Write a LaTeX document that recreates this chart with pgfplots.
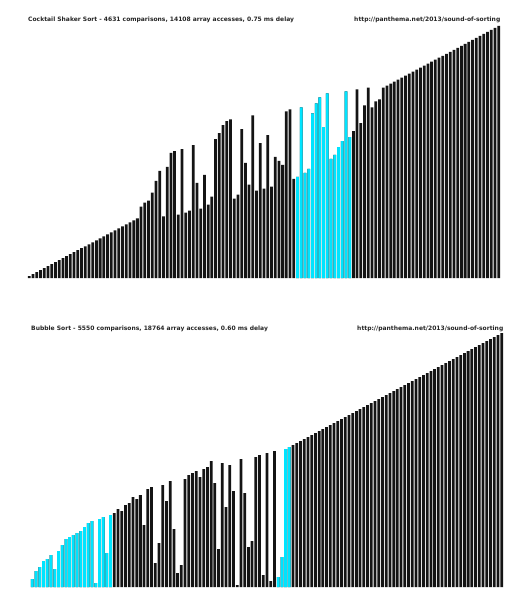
\documentclass[border=0pt]{standalone}
\usepackage{pgfplots}
\usepackage{pgfplotstable}
\pgfplotsset{compat=1.18}
\usepackage{fontspec}
\setmainfont{DejaVu Sans}
\definecolor{barblack}{RGB}{20,20,20}
\definecolor{barcyan}{RGB}{0,228,255}

% Cocktail Shaker Sort: one value per bar, left to right
\pgfplotstableread[row sep=\\]{
v\\ 1\\ 2\\ 3\\ 4\\ 5\\ 6\\ 7\\ 8\\ 9\\ 10\\ 11\\ 12\\ 13\\ 14\\ 15\\ 16\\ 17\\ 18\\ 19\\ 20\\
21\\ 22\\ 23\\ 24\\ 25\\ 26\\ 27\\ 28\\ 29\\ 30\\
36\\ 38\\ 39\\ 43\\ 49\\ 54\\ 31\\ 56\\ 63\\ 64\\ 32\\ 65\\ 33\\ 34\\ 67\\ 48\\ 35\\ 52\\ 37\\ 41\\
70\\ 73\\ 77\\ 79\\ 80\\ 40\\ 42\\ 75\\ 58\\ 47\\ 82\\ 44\\
68\\ 45\\ 72\\ 46\\ 61\\ 59\\ 57\\ 84\\ 85\\ 50\\
51\\ 86\\ 53\\ 55\\ 83\\ 88\\ 91\\ 76\\ 93\\ 60\\ 62\\ 66\\ 69\\ 94\\ 71\\
74\\ 95\\ 78\\ 87\\ 96\\ 86\\ 89\\ 90\\
96\\ 97\\ 98\\ 99\\ 100\\ 101\\ 102\\ 103\\ 104\\ 105\\ 106\\ 107\\ 108\\ 109\\ 110\\ 111\\
112\\ 113\\ 114\\ 115\\ 116\\ 117\\ 118\\ 119\\ 120\\ 121\\ 122\\ 123\\ 124\\ 125\\ 126\\ 127\\
}\shakertab

% Bubble Sort: one value per bar, left to right
\pgfplotstableread[row sep=\\]{
v\\ 4\\ 8\\ 10\\ 13\\ 14\\ 16\\ 9\\ 18\\ 21\\ 24\\ 25\\ 26\\ 27\\ 28\\ 30\\ 32\\ 33\\ 2\\ 34\\ 35\\ 17\\ 36\\
37\\ 39\\ 38\\ 41\\ 42\\ 45\\ 44\\ 46\\ 31\\ 49\\ 50\\ 12\\ 22\\
51\\ 43\\ 53\\ 29\\ 7\\ 11\\ 54\\ 56\\ 57\\ 58\\ 55\\ 59\\ 60\\ 63\\ 52\\ 19\\ 62\\ 40\\ 61\\ 48\\
1\\ 64\\ 47\\ 20\\ 23\\ 65\\ 66\\ 6\\ 67\\ 3\\ 68\\
5\\ 15\\ 69\\ 70\\
71\\ 72\\ 73\\ 74\\ 75\\ 76\\ 77\\ 78\\ 79\\ 80\\ 81\\ 82\\ 83\\ 84\\ 85\\ 86\\ 87\\ 88\\ 89\\ 90\\
91\\ 92\\ 93\\ 94\\ 95\\ 96\\ 97\\ 98\\ 99\\ 100\\ 101\\ 102\\ 103\\ 104\\ 105\\ 106\\ 107\\ 108\\
109\\ 110\\ 111\\ 112\\ 113\\ 114\\ 115\\ 116\\ 117\\ 118\\ 119\\ 120\\ 121\\ 122\\ 123\\ 124\\ 125\\ 126\\ 127\\
}\bubbletab

\pgfplotsset{
  sortaxis/.style={scale only axis, anchor=south west, xmin=0.5, xmax=127.5,
    ymin=0, ymax=127, axis lines=none, clip=false},
  blackbars/.style={ybar, bar width=0.74, bar shift=0pt, fill=barblack, draw=none},
  cyanbars/.style={ybar, bar width=0.74, bar shift=0pt, fill=barcyan, draw=none},
}

\begin{document}
\begin{tikzpicture}
\useasboundingbox (0pt,0pt) rectangle (531pt,-610pt);
\fill[white] (0pt,0pt) rectangle (531pt,-610pt);

\begin{axis}[sortaxis, at={(27.5pt,-278pt)}, width=473pt, height=252pt]
\addplot[blackbars] table[x expr=\coordindex+1, y=v] {\shakertab};
\addplot[cyanbars, restrict x to domain=72.5:87.5] table[x expr=\coordindex+1, y=v] {\shakertab};
\end{axis}

\begin{axis}[sortaxis, at={(30.5pt,-587pt)}, width=473pt, height=254pt]
\addplot[blackbars] table[x expr=\coordindex+1, y=v] {\bubbletab};
\addplot[cyanbars, restrict x to domain=0.5:22.5] table[x expr=\coordindex+1, y=v] {\bubbletab};
\addplot[cyanbars, restrict x to domain=66.5:70.5] table[x expr=\coordindex+1, y=v] {\bubbletab};
\end{axis}

\tikzset{ttl/.style={inner sep=0pt, font=\fontsize{6}{7}\selectfont\bfseries, text=black!85}}
\node[ttl, anchor=base west] at (28pt,-21.5pt)
  {Cocktail Shaker Sort - 4631 comparisons, 14108 array accesses, 0.75 ms delay};
\node[ttl, anchor=base east] at (500.5pt,-21.5pt)
  {http://panthema.net/2013/sound-of-sorting};
\node[ttl, anchor=base west] at (31pt,-330.5pt)
  {Bubble Sort - 5550 comparisons, 18764 array accesses, 0.60 ms delay};
\node[ttl, anchor=base east] at (503.5pt,-330.5pt)
  {http://panthema.net/2013/sound-of-sorting};
\end{tikzpicture}
\end{document}
